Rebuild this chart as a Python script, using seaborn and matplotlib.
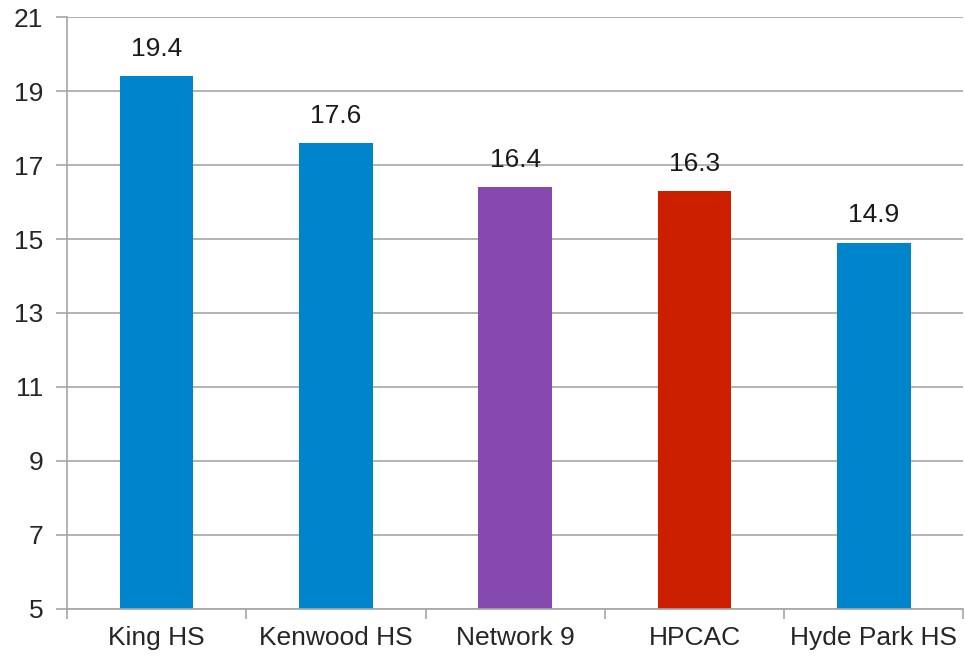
import pandas as pd
import numpy as np
import matplotlib.pyplot as plt
import seaborn as sns

# Chart values
schools = ['King HS', 'Kenwood HS', 'Network 9', 'HPCAC', 'Hyde Park HS']
scores = [19.4, 17.6, 16.4, 16.3, 14.9]
bar_colors = ['#0084cc', '#0084cc', '#8549b0', '#cc1f00', '#0084cc']
y_ticks = [5, 7, 9, 11, 13, 15, 17, 19, 21]

df = pd.DataFrame({'School': schools, 'Score': scores})

sns.set_style('white', {'xtick.bottom': True, 'ytick.left': True})
plt.rcParams['font.family'] = ['Liberation Sans', 'DejaVu Sans']

fig = plt.figure(figsize=(9.65, 6.57), dpi=100)
ax = fig.add_axes([0.0694, 0.0731, 0.929, 0.901])

sns.barplot(data=df, x='School', y='Score', hue='School', palette=bar_colors,
            width=0.41, legend=False, ax=ax, saturation=1, linewidth=0)

for c in ax.containers:
    ax.bar_label(c, fmt='%.1f', padding=11, fontsize=19, color='#1a1a1a')

ax.set_ylim(5, 21)
ax.set_xlim(-0.5, len(schools) - 0.5)
ax.set_yticks(y_ticks)
ax.yaxis.grid(True, color='#a6a6a6', linewidth=1.2)
ax.set_axisbelow(True)

ax.set_xticks(np.arange(-0.5, len(schools)), minor=True)
ax.tick_params(axis='x', which='major', length=0, pad=12, labelsize=19)
ax.tick_params(axis='x', which='minor', bottom=True, length=7, width=1.2,
               color='#a6a6a6', direction='out')
ax.tick_params(axis='y', left=True, length=8, width=1.2, color='#a6a6a6',
               direction='out', labelsize=19, pad=9)

for side in ['top', 'right']:
    ax.spines[side].set_visible(False)
for side in ['left', 'bottom']:
    ax.spines[side].set_color('#a6a6a6')
    ax.spines[side].set_linewidth(1.2)

ax.set_xlabel('')
ax.set_ylabel('')

fig.savefig('out.png', dpi=100)
